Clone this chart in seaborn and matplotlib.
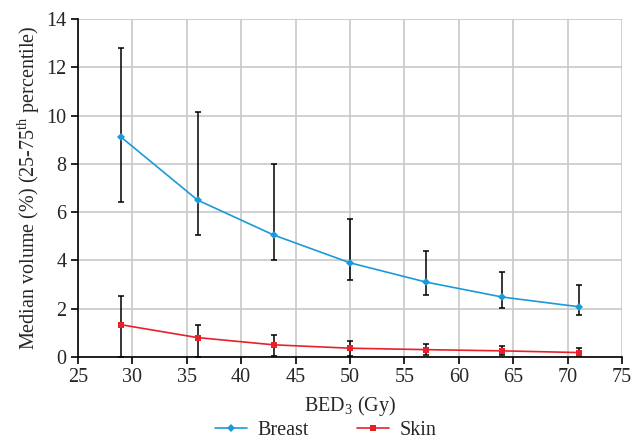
import matplotlib
matplotlib.use("Agg")
import matplotlib.pyplot as plt
import seaborn as sns
import pandas as pd

# data
bed = [29, 36, 43, 50, 57, 64, 71]
breast_med = [9.1, 6.5, 5.05, 3.9, 3.1, 2.48, 2.08]
breast_lo = [6.42, 5.05, 4.02, 3.2, 2.56, 2.02, 1.72]
breast_hi = [12.8, 10.15, 7.98, 5.72, 4.39, 3.5, 2.97]
skin_med = [1.33, 0.8, 0.5, 0.36, 0.3, 0.25, 0.18]
skin_lo = [0.0, 0.0, 0.02, 0.05, 0.06, 0.07, 0.05]
skin_hi = [2.53, 1.32, 0.92, 0.67, 0.55, 0.45, 0.38]

blue = "#1b9ad8"
red = "#e8202a"
fs = 14.5

sns.set_style("white")
plt.rcParams["font.family"] = ["Liberation Serif", "DejaVu Serif"]
plt.rcParams["mathtext.fontset"] = "custom"
plt.rcParams["mathtext.rm"] = "Liberation Serif"

df = pd.DataFrame({
    "bed": bed * 2,
    "vol": breast_med + skin_med,
    "tissue": ["Breast"] * len(bed) + ["Skin"] * len(bed),
})

fig = plt.figure(figsize=(6.38, 4.45), dpi=100)
ax = fig.add_axes([0.122, 0.198, 0.853, 0.759])

ax.errorbar(bed, breast_med,
            yerr=[[m - l for m, l in zip(breast_med, breast_lo)],
                  [h - m for m, h in zip(breast_med, breast_hi)]],
            fmt="none", ecolor="black", elinewidth=1.1, capsize=2.2, capthick=1.1, zorder=3)
ax.errorbar(bed, skin_med,
            yerr=[[m - l for m, l in zip(skin_med, skin_lo)],
                  [h - m for m, h in zip(skin_med, skin_hi)]],
            fmt="none", ecolor="black", elinewidth=1.1, capsize=2.2, capthick=1.1, zorder=3)

sns.lineplot(data=df, x="bed", y="vol", hue="tissue", style="tissue",
             palette={"Breast": blue, "Skin": red},
             markers={"Breast": "D", "Skin": "s"}, dashes=False,
             markersize=4, markeredgewidth=0, linewidth=1.2, ax=ax, zorder=4)

ax.set_xlim(25, 75)
ax.set_ylim(0, 14)
ax.set_xticks(range(25, 80, 5))
ax.set_yticks(range(0, 15, 2))
ax.grid(True, color="#c8c8c8", linewidth=1.2)
ax.set_axisbelow(True)
for s in ["top", "right"]:
    ax.spines[s].set_visible(False)
for s in ["left", "bottom"]:
    ax.spines[s].set_color("black")
    ax.spines[s].set_linewidth(1.2)
ax.tick_params(axis="both", direction="out", length=5, width=1.2, labelsize=fs,
               color="black", bottom=True, left=True, pad=3)

ax.set_xlabel("BED$_3$ (Gy)", fontsize=fs, labelpad=5)
ax.set_ylabel("Median volume (%) (25-75$^{\\mathrm{th}}$ percentile)", fontsize=fs, labelpad=3)

handles, labels = ax.get_legend_handles_labels()
ax.legend(handles, labels, loc="upper center", bbox_to_anchor=(0.455, -0.178),
          ncol=2, frameon=False, fontsize=fs, handlelength=1.6, columnspacing=2.4,
          borderaxespad=0, handletextpad=0.5, borderpad=0.2)

fig.savefig("out.png", dpi=100)
